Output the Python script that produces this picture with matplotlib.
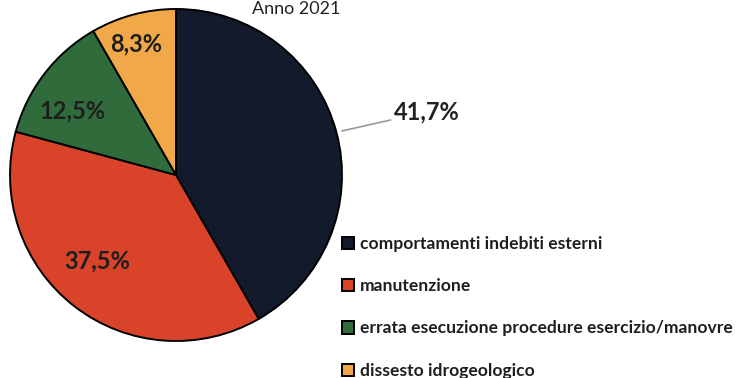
import matplotlib.pyplot as plt
import numpy as np

# Cause degli eventi, anno 2021
categorie = ['comportamenti indebiti esterni', 'manutenzione',
             'errata esecuzione procedure esercizio/manovre', 'dissesto idrogeologico']
percentuali = [41.7, 37.5, 12.5, 8.3]
colori = ['#131a2c', '#d8432a', '#2f6b3b', '#f0a848']

plt.rcParams['font.family'] = ['Lato', 'DejaVu Sans']

fig = plt.figure(figsize=(7.4, 3.78), dpi=100)
W, H = 740, 378
cx, cy, r = 176, 175, 166
ax = fig.add_axes([(cx - r) / W, (H - cy - r) / H, 2 * r / W, 2 * r / H])

wedges, _ = ax.pie(percentuali, colors=colori, startangle=90, counterclock=False,
                   radius=1, wedgeprops=dict(edgecolor='black', linewidth=1.4))
ax.set_xlim(-1, 1)
ax.set_ylim(-1, 1)
ax.set_aspect('equal')

def fmt(v):
    return f'{v:.1f}%'.replace('.', ',')

# labels inside the smaller slices, the first one outside with a leader line
dist = [None, 0.70, 0.735, 0.824]
shift = [0, -5, 6, 1.8]
for i, w in enumerate(wedges):
    ang = np.deg2rad((w.theta1 + w.theta2) / 2)
    if i == 0:
        ax.annotate(fmt(percentuali[i]), xy=(np.cos(ang), np.sin(ang)),
                    xytext=(1.31, 0.38), fontsize=17, fontweight='bold',
                    color='#222222', va='center', ha='left',
                    arrowprops=dict(arrowstyle='-', color='#9a9a9a', lw=1.2,
                                    shrinkA=0, shrinkB=4),
                    annotation_clip=False)
    else:
        a = ang + np.deg2rad(shift[i])
        ax.text(dist[i] * np.cos(a), dist[i] * np.sin(a), fmt(percentuali[i]),
                fontsize=17, fontweight='bold', color='#1e1e1e',
                ha='center', va='center')

fig.text(0.4, 0.998, 'Anno 2021', fontsize=13, ha='center', va='top', color='#222222')

leg = fig.legend(wedges, categorie, loc='upper left', bbox_to_anchor=(342 / W, 1 - 236 / H),
                 frameon=False, prop={'family': ['Lato', 'DejaVu Sans'], 'weight': 'bold', 'size': 12.6},
                 handlelength=0.7, handleheight=0.7,
                 handletextpad=0.3, labelspacing=1.5, borderaxespad=0, borderpad=0)
for t in leg.get_texts():
    t.set_color('#1e1e1e')

fig.savefig('out.png', dpi=100)
